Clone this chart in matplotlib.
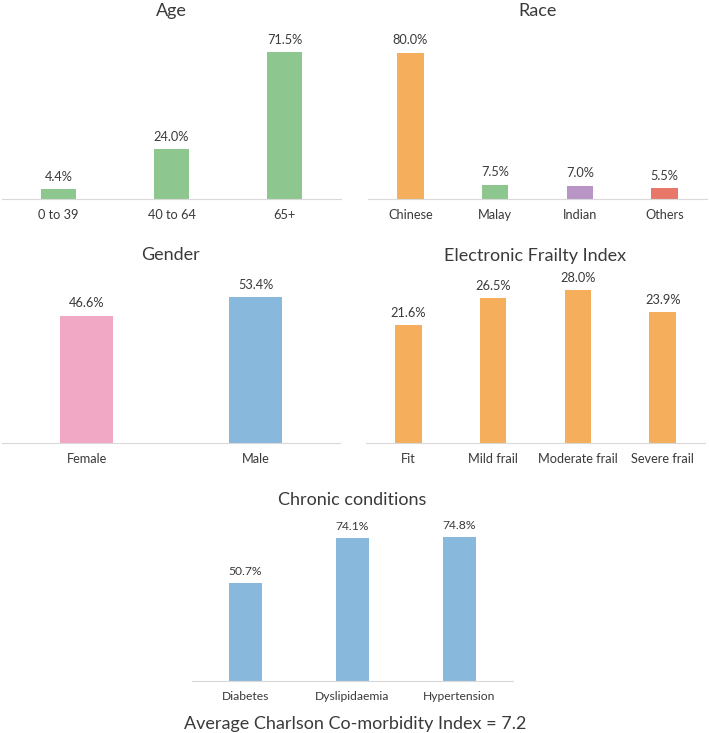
import matplotlib
matplotlib.use('Agg')
import matplotlib.pyplot as plt

plt.rcParams['font.family'] = ['Lato', 'DejaVu Sans']

W, H = 709, 733

# data
age_labels = ['0 to 39', '40 to 64', '65+']
age_values = [4.4, 24.0, 71.5]
race_labels = ['Chinese', 'Malay', 'Indian', 'Others']
race_values = [80.0, 7.5, 7.0, 5.5]
gender_labels = ['Female', 'Male']
gender_values = [46.6, 53.4]
efi_labels = ['Fit', 'Mild frail', 'Moderate frail', 'Severe frail']
efi_values = [21.6, 26.5, 28.0, 23.9]
chronic_labels = ['Diabetes', 'Dyslipidaemia', 'Hypertension']
chronic_values = [50.7, 74.1, 74.8]
avg_cci = 7.2

GREEN = '#8DC68F'
ORANGE = '#F4AE5C'
PURPLE = '#B895C5'
RED = '#E8776A'
PINK = '#F0A8C4'
BLUE = '#89B8DD'
TEXT = '#3A3A3A'
AXIS = '#D9D9D9'

fig = plt.figure(figsize=(W / 100, H / 100), dpi=100)


def px(x, y):
    # pixel (from top-left) -> figure fraction
    return x / W, 1 - y / H


def panel(left, right, base, top, ymax, title, title_y, labels, values, colors,
          fs=9.2, tfs=13):
    ax = fig.add_axes([left / W, 1 - base / H, (right - left) / W, (base - top) / H])
    x = list(range(len(values)))
    ax.bar(x, values, width=0.31, color=colors)
    ax.set_xlim(-0.5, len(values) - 0.5)
    ax.set_ylim(0, ymax)
    ax.set_xticks(x)
    ax.set_xticklabels(labels, fontsize=fs, color=TEXT)
    ax.tick_params(axis='x', length=0, pad=7.5)
    ax.set_yticks([])
    for s in ['top', 'right', 'left']:
        ax.spines[s].set_visible(False)
    ax.spines['bottom'].set_color(AXIS)
    ax.spines['bottom'].set_linewidth(0.8)
    for xi, v in zip(x, values):
        ax.annotate(f'{v:.1f}%', (xi, v), xytext=(0, 6), textcoords='offset points',
                    ha='center', va='baseline', fontsize=fs, color=TEXT,
                    annotation_clip=False)
    cx = (left + right) / 2
    fig.text(*px(cx, title_y), title, ha='center', va='baseline', fontsize=tfs, color=TEXT)
    return ax


panel(2, 341, 198.5, 34.5, 80, 'Age', 15.7, age_labels, age_values, GREEN)
panel(368, 707, 198.5, 34.5, 90, 'Race', 15.7, race_labels, race_values,
      [ORANGE, GREEN, PURPLE, RED])
panel(2, 340, 443, 279, 60, 'Gender', 260.5, gender_labels, gender_values, [PINK, BLUE])
panel(366, 705, 443, 279, 30, 'Electronic Frailty Index', 260.5, efi_labels, efi_values, ORANGE)
panel(192, 513, 681, 527, 80, 'Chronic conditions', 505, chronic_labels, chronic_values, BLUE,
      fs=8.7)

fig.text(*px(355, 728.5), f'Average Charlson Co-morbidity Index = {avg_cci}',
         ha='center', va='baseline', fontsize=13, color=TEXT)

fig.savefig('out.png', dpi=100)
